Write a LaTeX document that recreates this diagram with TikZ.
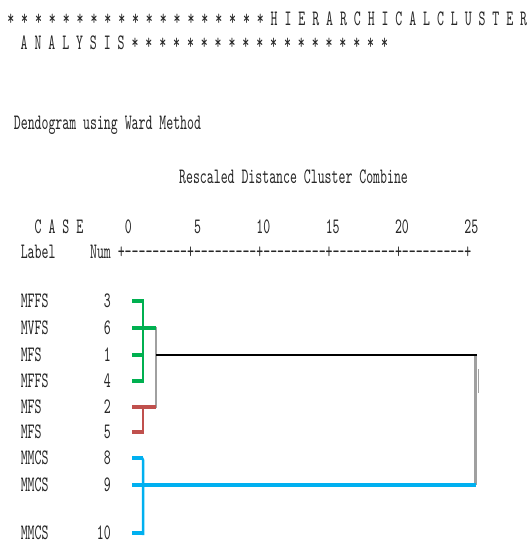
\documentclass[tikz,border=0pt]{standalone}
\usepackage{fontspec}
\setmonofont{lmmono10-regular.otf}[FakeStretch=0.6]
\usetikzlibrary{calc}
\definecolor{ink}{HTML}{262626}
\definecolor{grn}{HTML}{00B050}
\definecolor{rd}{HTML}{C0504D}
\definecolor{blu}{HTML}{00B0F0}
\definecolor{shadowgray}{HTML}{A0A0A0}

\begin{document}
\begin{tikzpicture}[x=1pt,y=-1pt,line cap=butt,line join=miter,
  txt/.style={font=\ttfamily\fontsize{22}{26}\selectfont,text=ink,inner sep=0pt,anchor=base west},
  drop/.style={line width=3pt,shadowgray,shift={(0.8,3.6)}},
  stub/.style={line width=4.4pt},
  riser/.style={line width=2.5pt},
  joinln/.style={line width=2pt,shadowgray},
  blk/.style={line width=2.2pt,black}]
  \fill[white] (0,0) rectangle (528,543);
  \useasboundingbox (0,0) rectangle (528,543);

  % ---- header text ----
  \node[txt] (head1) at (7.2,26) {* * * * * * * * * * * * * * * * * * * H I E R A R C H I C A L C L U S T E R};
  \node[txt] (head2) at (20.5,50) {A N A L Y S I S * * * * * * * * * * * * * * * * * * *};
  \node[txt] (method) at (13.7,129) {Dendogram using Ward Method};
  \node[txt] (rescaled) at (179,183) {Rescaled Distance Cluster Combine};
  \node[txt] (case) at (34.5,233) {C A S E~~~~~~0~~~~~~~~~5~~~~~~~~10~~~~~~~~15~~~~~~~~20~~~~~~~~25};
  \node[txt] (axis) at (20.6,258) {Label~~~~~Num +---------+---------+---------+---------+---------+};

  % ---- cases (label, number, leaf point) ----
  \foreach \n/\y/\t in {3/301/MFFS,6/328/MVFS,1/355/MFS,4/381/MFFS,2/407/MFS,5/432/MFS,8/458/MMCS,9/485/MMCS,10/533/MMCS}{
    \node[txt] (lbl\n) at (20.6,\y+6) {\t};
    \node[txt,anchor=base east] (num\n) at (111,\y+6) {\n};
    \coordinate (l\n) at (132,\y);
  }
  \coordinate (jA) at (143,0);   % first merge column
  \coordinate (jB) at (156,0);   % second merge column
  \coordinate (jC) at (475.5,0); % final merge

  % ---- drop shadows ----
  \foreach \n in {3,1,4,5,8,10}{\draw[drop] (l\n) -- (l\n -| jA);}
  \foreach \n in {6,2}{\draw[drop] (l\n) -- (l\n -| jB);}
  \draw[drop,line width=3.4pt] (l9) -- (l9 -| jC);

  % ---- gray joins and black link ----
  \draw[joinln] ($(l6 -| jB)+(0,-1)$) -- ($(l2 -| jB)+(0,1)$);
  \draw[joinln,line width=2.4pt] ($(l1 -| jC)+(0,-1)$) -- (l9 -| jC);
  \draw[shadowgray,line width=1.2pt] ($(l1 -| jC)+(3,14)$) -- ($(l1 -| jC)+(3,38)$);
  \draw[blk] (l1 -| jB) -- ($(l1 -| jC)+(1,0)$);

  % ---- green cluster ----
  \draw[grn,riser] ($(l3 -| jA)+(0,-1)$) -- ($(l4 -| jA)+(0,2)$);
  \foreach \n in {3,1,4}{\draw[grn,stub] (l\n) -- ($(l\n -| jA)+(1,0)$);}
  \draw[grn,stub] (l6) -- (l6 -| jB);

  % ---- red cluster ----
  \draw[rd,riser] (l2 -| jA) -- ($(l5 -| jA)+(0,2)$);
  \draw[rd,stub] (l2) -- (l2 -| jB);
  \draw[rd,stub] (l5) -- ($(l5 -| jA)+(1,0)$);

  % ---- blue cluster ----
  \draw[blu,riser,rounded corners=2pt] (l8) -- (l8 -| jA) -- ($(l10 -| jA)+(0,2)$);
  \draw[blu,stub] (l8) -- (l8 -| jA);
  \draw[blu,stub] (l10) -- ($(l10 -| jA)+(1,0)$);
  \draw[blu,line width=4.8pt] (l9) -- (l9 -| jC);
\end{tikzpicture}
\end{document}
